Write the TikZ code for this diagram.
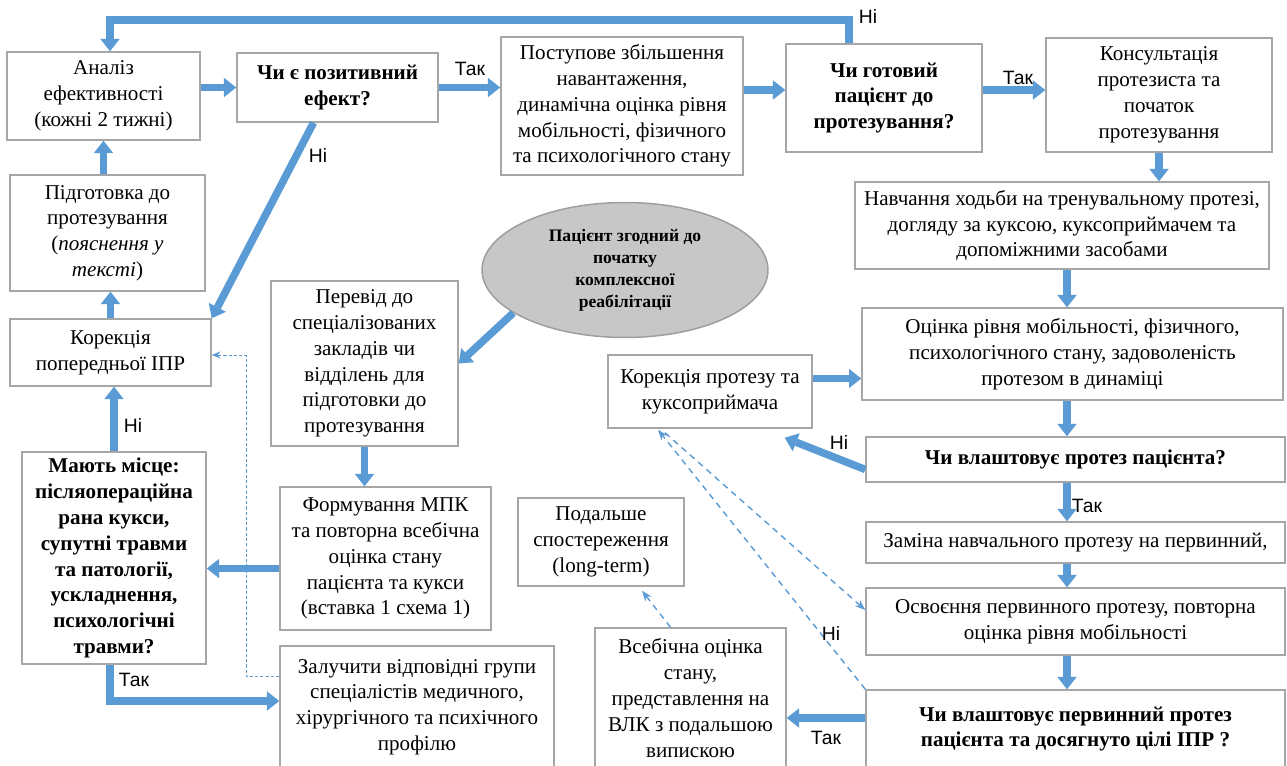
\documentclass[tikz,border=0pt]{standalone}
\usepackage{fontspec}
\setmainfont{Liberation Serif}
\newfontfamily\sansfnt{Liberation Sans}
\usepackage{tikz}
\usetikzlibrary{arrows.meta,shapes.geometric}
\definecolor{flowblue}{HTML}{5B9BD5}
\definecolor{framegray}{HTML}{A6A6A6}
\begin{document}
\begin{tikzpicture}[x=0.02cm,y=-0.02cm,
    box/.style={draw=framegray,line width=0.85pt,align=center,inner sep=1pt,font=\fontsize{12}{14.7}\selectfont},
    qbox/.style={box,font=\fontsize{12}{14.7}\selectfont\bfseries},
    flow/.style={draw=flowblue,line width=4.3pt,-{Triangle[length=7pt,width=11pt,line width=0pt]}},
    dflow/.style={draw=flowblue,line width=0.8pt,dash pattern=on 3.5pt off 2.8pt,-{Stealth[length=6pt,width=4.5pt]}},
    tflow/.style={draw=flowblue,line width=0.5pt,dash pattern=on 1.8pt off 1.2pt,-{Stealth[length=5pt,width=4pt]}},
    yn/.style={font=\sansfnt\fontsize{11}{13}\selectfont,inner sep=0pt}]
\useasboundingbox (0,0) rectangle (1287,765);
\fill[white] (0,0) rectangle (1287,765);

\node[box,minimum width=3.86cm,minimum height=1.76cm] (analiz) at (103.5,96) {Аналіз\\ефективності\\(кожні 2 тижні)};
\node[qbox,minimum width=4.02cm,minimum height=1.38cm] (chie) at (337.5,87.5) {Чи є позитивний\\ефект?};
\node[box,minimum width=4.84cm,minimum height=2.76cm] (postup) at (622,106) {Поступове збільшення\\навантаження,\\динамічна оцінка рівня\\мобільності, фізичного\\та психологічного стану};
\node[qbox,minimum width=3.92cm,minimum height=2.16cm] (gotov) at (884,98) {Чи готовий\\пацієнт до\\протезування?};
\node[box,minimum width=4.52cm,minimum height=2.28cm] (konsult) at (1159,95) {Консультація\\протезиста та\\початок\\протезування};
\node[box,minimum width=8.28cm,minimum height=1.74cm] (navch) at (1062,225.5) {Навчання ходьби на тренувальному протезі,\\догляду за куксою, куксоприймачем та\\допоміжними засобами};
\node[box,minimum width=3.9cm,minimum height=2.32cm] (pidgot) at (107.5,233) {Підготовка до\\протезування\\(\textit{пояснення у}\\\textit{тексті})};
\node[box,minimum width=4.02cm,minimum height=1.34cm] (korppr) at (110.5,352.5) {Корекція\\попередньої ІПР};
\node[qbox,minimum width=3.68cm,minimum height=4.24cm] (mayut) at (114,558) {Мають місце:\\післяопераційна\\рана кукси,\\супутні травми\\та патології,\\ускладнення,\\психологічні\\травми?};
\node[box,minimum width=3.74cm,minimum height=3.3cm] (perevid) at (364.5,363.5) {Перевід до\\спеціалізованих\\закладів чи\\відділень для\\підготовки до\\протезування};
\node[ellipse,draw=black!38,fill=black!22,line width=0.85pt,inner sep=0pt,align=center,minimum width=5.72cm,minimum height=2.7cm,font=\fontsize{10}{12.6}\selectfont\bfseries] (pac) at (625,270) {Пацієнт згодний до\\початку\\комплексної\\реабілітації};
\node[box,minimum width=4.22cm,minimum height=2.86cm] (formuv) at (385.5,558.5) {Формування МПК\\та повторна всебічна\\оцінка стану\\пацієнта та кукси\\(вставка 1 схема 1)};
\node[box,minimum width=5.48cm,minimum height=2.44cm] (zaluch) at (417,707) {Залучити відповідні групи\\спеціалістів медичного,\\хірургічного та психічного\\профілю};
\node[box,minimum width=4.08cm,minimum height=1.46cm] (korprot) at (710,391.5) {Корекція протезу та\\куксоприймача};
\node[box,minimum width=8.42cm,minimum height=1.84cm] (ocinka) at (1072.5,354) {Оцінка рівня мобільності, фізичного,\\психологічного стану, задоволеність\\протезом в динаміці};
\node[qbox,minimum width=8.38cm,minimum height=0.9cm] (chivl) at (1075.5,459.5) {Чи влаштовує протез пацієнта?};
\node[box,minimum width=8.38cm,minimum height=0.82cm] (zamina) at (1075.5,542.5) {Заміна навчального протезу на первинний,};
\node[box,minimum width=8.38cm,minimum height=1.34cm] (osvo) at (1075.5,621.5) {Освоєння первинного протезу, повторна\\оцінка рівня мобільності};
\node[qbox,minimum width=8.38cm,minimum height=1.56cm] (chivlperv) at (1075.5,729) {Чи влаштовує первинний протез\\пацієнта та досягнуто цілі ІПР ?};
\node[box,minimum width=3.82cm,minimum height=2.8cm] (vsebich) at (690.5,698) {Всебічна оцінка\\стану,\\представлення на\\ВЛК з подальшою\\випискою};
\node[box,minimum width=3.32cm,minimum height=1.76cm] (podal) at (601,542) {Подальше\\спостереження\\(long-term)};

\coordinate (fbr) at (849,20);
\coordinate (fbl) at (110,20);
\coordinate (rc) at (1067,0);
\coordinate (dk) at (246,355);

\draw[flow] (gotov.north -| fbr) -- (fbr) -- (fbl) -- (analiz.north -| fbl);
\draw[flow] (analiz.east |- chie.west) -- (chie.west);
\draw[flow] (chie.east) -- (chie.east -| postup.west);
\draw[flow] ([shift={(0,-16)}]postup.east) -- ([shift={(0,-8)}]gotov.west);
\draw[flow] ([shift={(0,-8)}]gotov.east) -- ([shift={(0,-5)}]konsult.west);
\draw[flow] (konsult.south) -- (konsult.south |- navch.north);
\draw[flow] (navch.south -| rc) -- (ocinka.north -| rc);
\draw[flow] (ocinka.south -| rc) -- (chivl.north -| rc);
\draw[flow] (chivl.south -| rc) -- (zamina.north -| rc);
\draw[flow] (zamina.south -| rc) -- (osvo.north -| rc);
\draw[flow] (osvo.south -| rc) -- (chivlperv.north -| rc);
\draw[flow] ([shift={(0,-11)}]chivlperv.west) -- ([shift={(0,20)}]vsebich.east);
\draw[flow] ([shift={(0,10)}]chivl.west) -- ([shift={(-28,9)}]korprot.south east);
\draw[flow] ([shift={(0,-13)}]korprot.east) -- ([shift={(0,24.5)}]ocinka.west);
\draw[flow] (pac.201) -- (perevid.east);
\draw[flow] ([shift={(-24,0)}]chie.south) -- (korppr.north east);
\draw[flow] (pidgot.north -| analiz.south) -- (analiz.south);
\draw[flow] (korppr.north) -- (korppr.north |- pidgot.south);
\draw[flow] (mayut.north) -- (mayut.north |- korppr.south);
\draw[flow] (perevid.south) -- (perevid.south |- formuv.north);
\draw[flow] ([shift={(0,10)}]formuv.west) -- ([shift={(0,10.5)}]mayut.east);
\draw[flow] ([shift={(-4,0)}]mayut.south) |- ([shift={(0,-6)}]zaluch.west);

\draw[tflow] ([shift={(0,-30.5)}]zaluch.west) -| (dk) -- (dk -| korppr.east);
\draw[dflow] ([shift={(-45,4)}]korprot.south) -- ([shift={(0,-11.5)}]osvo.west);
\draw[dflow] (chivlperv.north west) -- ([shift={(-52,1)}]korprot.south);
\draw[dflow] ([shift={(-20,0)}]vsebich.north) -- ([shift={(41,4)}]podal.south);

\node[yn] (ni1) at (868,16) {Ні};
\node[yn] (tak1) at (470,69) {Так};
\node[yn] (tak2) at (1018,78) {Так};
\node[yn] (ni2) at (318,155) {Ні};
\node[yn] (ni3) at (133,425) {Ні};
\node[yn] (tak3) at (134,680) {Так};
\node[yn] (ni4) at (839,442) {Ні};
\node[yn] (tak4) at (1087,506) {Так};
\node[yn] (ni5) at (831,633) {Ні};
\node[yn] (tak5) at (826,738) {Так};
\end{tikzpicture}
\end{document}
